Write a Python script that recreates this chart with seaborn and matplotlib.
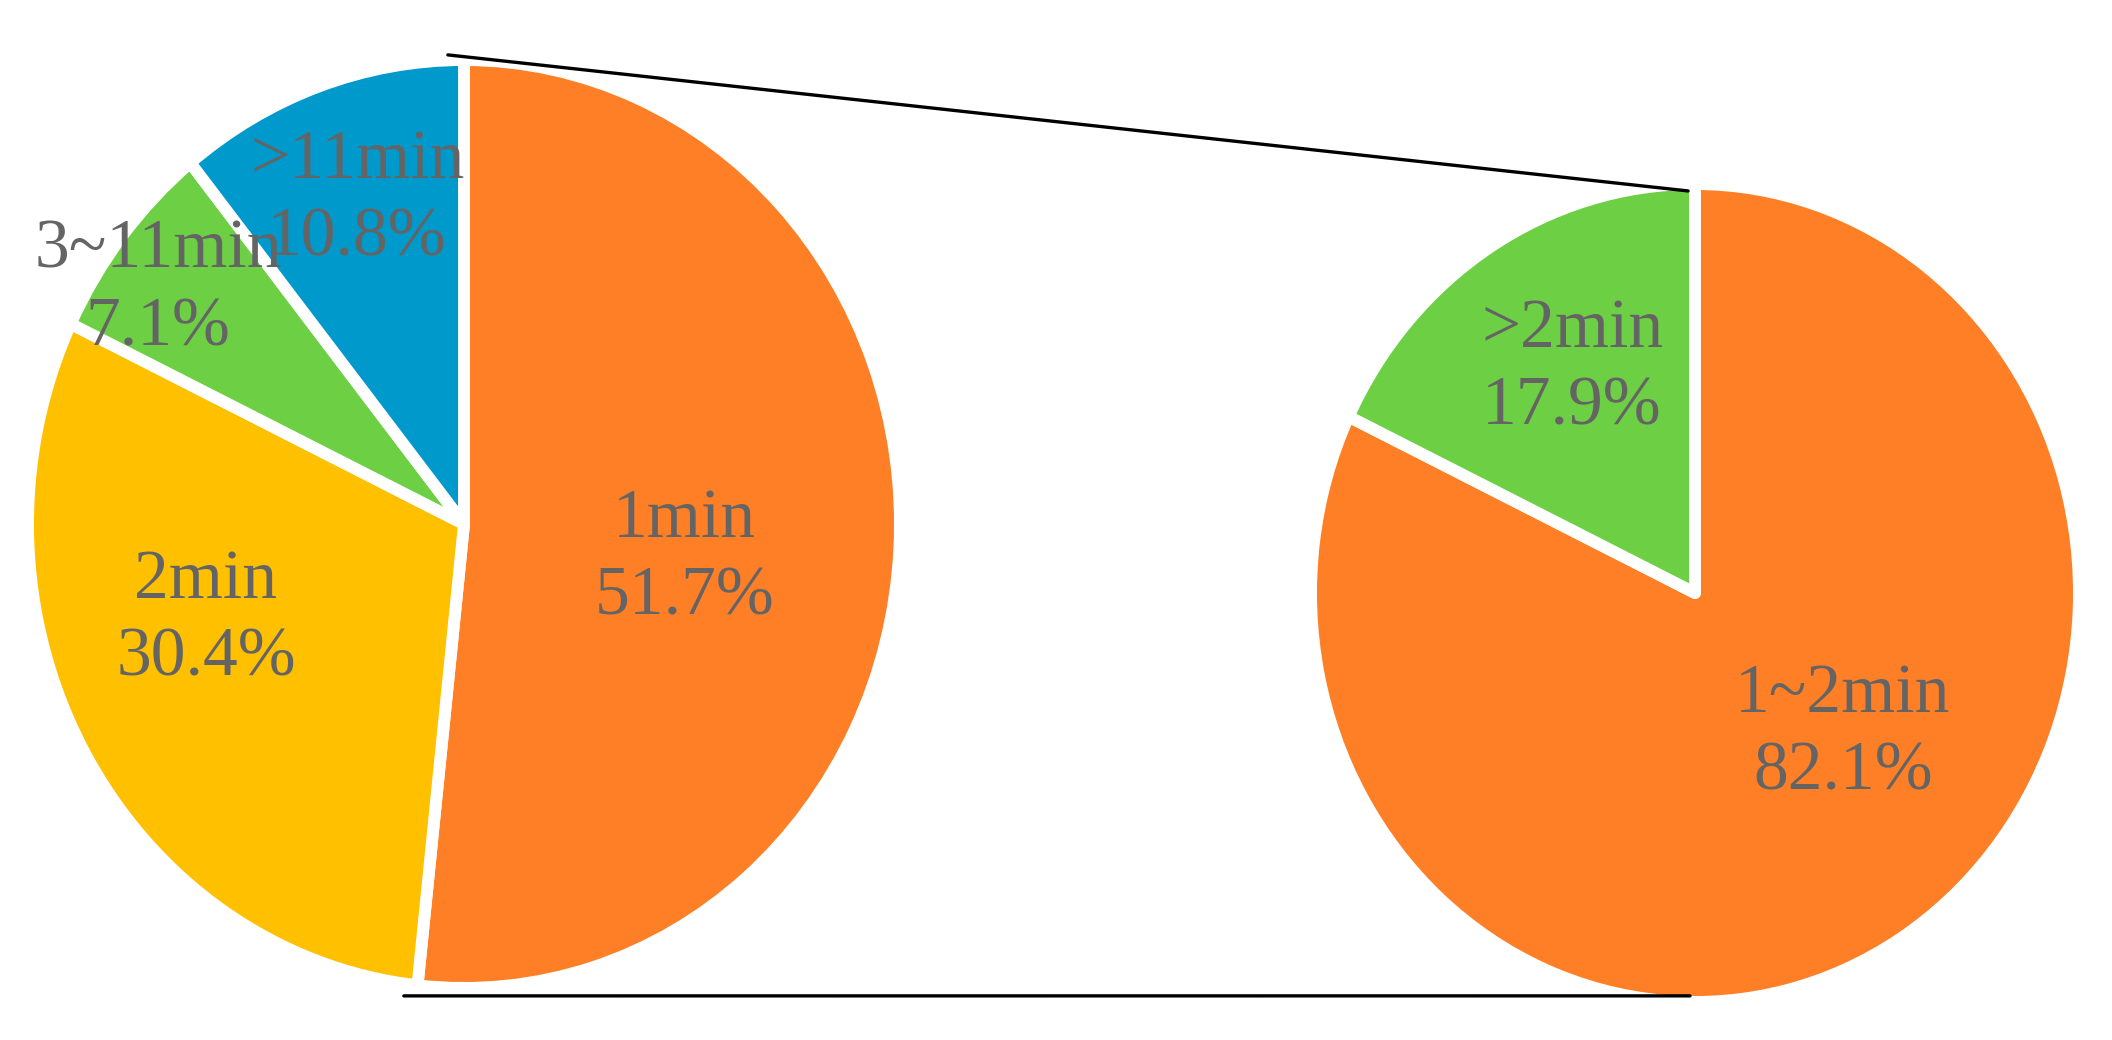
import matplotlib
matplotlib.use("Agg")
import matplotlib.pyplot as plt
from matplotlib.lines import Line2D
import seaborn as sns

# main pie
main_labels = ["1min", "2min", "3~11min", ">11min"]
main_values = [51.7, 30.4, 7.1, 10.8]
# sub pie
sub_labels = ["1~2min", ">2min"]
sub_values = [82.1, 17.9]

main_colors = sns.color_palette(["#FF7F27", "#FFC000", "#6DCF44", "#0099CC"])
sub_colors = sns.color_palette(["#FF7F27", "#6DCF44"])

# label positions inside each pie (radius units)
main_label_pos = [(0.505, -0.075), (-0.592, -0.207), (-0.702, 0.504), (-0.245, 0.698)]
sub_label_pos = [(0.385, -0.345), (-0.32, 0.548)]

sns.set_theme(style="white")
plt.rcParams['font.family'] = ['Liberation Serif', 'DejaVu Serif']

W, H = 2112, 1040
fig = plt.figure(figsize=(W / 100, H / 100), dpi=100)


def box(cx, cy, rx, ry):
    return [(cx - rx) / W, (H - cy - ry) / H, 2 * rx / W, 2 * ry / H]


ax1 = fig.add_axes(box(464, 524, 436, 464))
ax2 = fig.add_axes(box(1695, 593, 384, 409))

wedge_style = dict(edgecolor="white", linewidth=8.6, joinstyle="round")
text_color = "#646464"


def draw(ax, values, labels, colors, positions):
    ax.pie(values, colors=colors, startangle=90, counterclock=False,
           radius=1, wedgeprops=wedge_style)
    for lab, val, (x, y) in zip(labels, values, positions):
        ax.text(x, y, f"{lab}\n{val:.1f}%", ha="center", va="center",
                fontsize=50, color=text_color, linespacing=1.3)
    ax.set_aspect("auto")
    ax.set_xlim(-1, 1)
    ax.set_ylim(-1, 1)
    ax.axis("off")


draw(ax1, main_values, main_labels, main_colors, main_label_pos)
draw(ax2, sub_values, sub_labels, sub_colors, sub_label_pos)

# connector lines between the two pies
to_fig = fig.transFigure.inverted()
for a, b in [((-0.037, 1.011), (-0.018, 0.983)), ((-0.138, -1.017), (-0.013, -0.985))]:
    pa = to_fig.transform(ax1.transData.transform(a))
    pb = to_fig.transform(ax2.transData.transform(b))
    fig.add_artist(Line2D([pa[0], pb[0]], [pa[1], pb[1]], color="black",
                          linewidth=2.4, transform=fig.transFigure, zorder=5))

fig.savefig("out.png", dpi=100, facecolor="white")
